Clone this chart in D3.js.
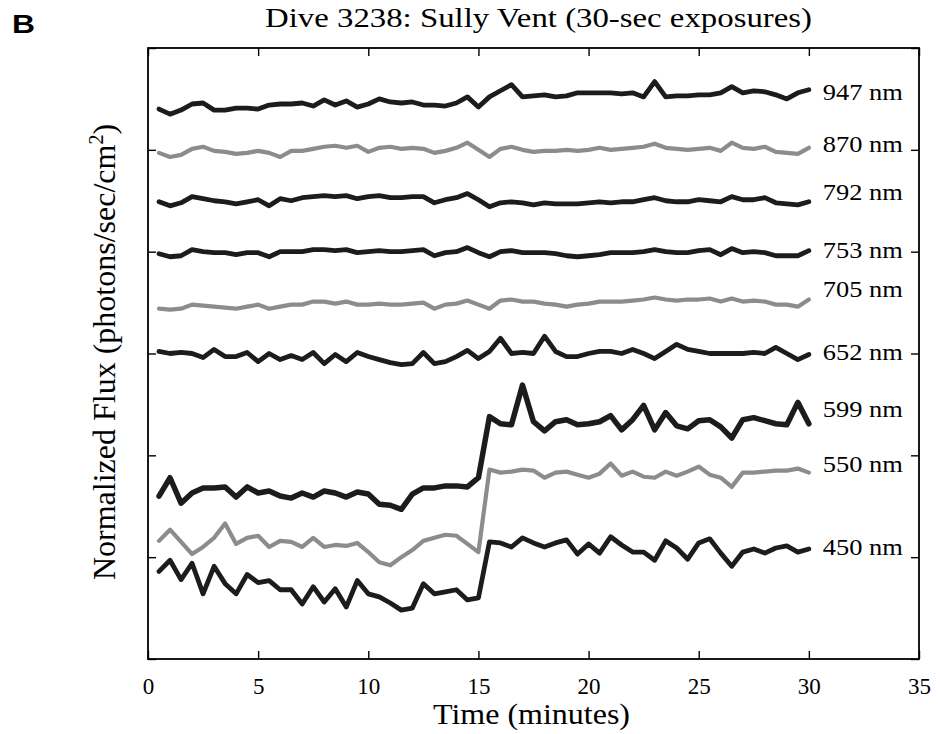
<!DOCTYPE html>
<html><head><meta charset="utf-8">
<script src="https://cdn.jsdelivr.net/npm/d3@7"></script>
<style>body{margin:0;background:#fff;} svg{display:block;}</style>
</head><body><svg id="c" width="940" height="734"></svg>
<script>
// Sample times (minutes), one 30-sec exposure each
const times = [0.5,1,1.5,2,2.5,3,3.5,4,4.5,5,5.5,6,6.5,7,7.5,8,8.5,9,9.5,10,
  10.5,11,11.5,12,12.5,13,13.5,14,14.5,15,15.5,16,16.5,17,17.5,18,18.5,19,19.5,20,
  20.5,21,21.5,22,22.5,23,23.5,24,24.5,25,25.5,26,26.5,27,27.5,28,28.5,29,29.5,30];

const labels = ["947 nm","870 nm","792 nm","753 nm","705 nm","652 nm","599 nm","550 nm","450 nm"];
const labelAnchor = [5.49,4.98,4.51,3.94,3.55,2.94,2.38,1.84,1.02];
const isGray = [false,true,false,false,true,false,false,true,false];

const s947 = [5.40,5.35,5.39,5.45,5.46,5.39,5.39,5.41,5.41,5.40,5.44,5.45,5.45,5.46,5.43,5.49,5.44,5.48,5.42,5.45,
  5.50,5.47,5.46,5.47,5.44,5.44,5.43,5.46,5.52,5.42,5.52,5.58,5.64,5.52,5.53,5.54,5.52,5.53,5.56,5.56,
  5.56,5.56,5.55,5.56,5.52,5.67,5.52,5.53,5.53,5.54,5.54,5.56,5.62,5.56,5.58,5.57,5.54,5.50,5.56,5.59];
const s870 = [4.97,4.93,4.95,5.01,5.03,4.99,4.98,4.96,4.97,4.99,4.97,4.93,4.99,4.99,5.01,5.03,5.04,5.02,5.04,4.98,
  5.02,5.03,5.01,5.02,5.01,4.97,4.99,5.02,5.07,5.00,4.93,5.01,5.03,5.00,4.98,4.99,4.99,5.00,4.99,5.00,
  5.02,5.00,5.01,5.02,5.03,5.06,5.02,5.01,5.00,5.01,5.02,4.99,5.07,5.02,5.01,5.03,4.98,4.97,4.96,5.02];
const s792 = [4.49,4.45,4.48,4.54,4.52,4.50,4.49,4.47,4.49,4.51,4.45,4.52,4.50,4.53,4.54,4.55,4.54,4.55,4.52,4.54,
  4.55,4.53,4.53,4.54,4.54,4.48,4.51,4.53,4.57,4.51,4.44,4.48,4.49,4.48,4.46,4.48,4.47,4.47,4.47,4.48,
  4.49,4.48,4.49,4.49,4.51,4.53,4.50,4.49,4.49,4.51,4.50,4.49,4.54,4.51,4.51,4.53,4.48,4.47,4.46,4.49];
const s753 = [3.98,3.95,3.96,4.02,4.00,3.99,3.99,3.97,3.99,3.99,3.95,4.00,4.00,4.00,4.02,4.02,4.01,4.02,3.99,4.00,
  4.01,4.00,4.00,4.01,4.02,3.96,3.99,4.00,4.04,3.99,3.95,4.00,4.01,3.99,3.99,3.99,3.98,3.96,3.95,3.96,
  3.97,3.99,3.99,3.99,4.00,4.02,4.00,3.99,3.99,4.01,4.02,3.97,4.03,3.99,4.00,3.99,3.96,3.96,3.96,4.01];
const s705 = [3.44,3.43,3.44,3.48,3.47,3.46,3.45,3.44,3.46,3.48,3.44,3.46,3.48,3.48,3.51,3.51,3.49,3.51,3.48,3.48,
  3.49,3.48,3.48,3.49,3.50,3.44,3.48,3.49,3.52,3.48,3.44,3.52,3.53,3.51,3.51,3.49,3.48,3.46,3.48,3.49,
  3.51,3.51,3.51,3.52,3.53,3.55,3.53,3.52,3.53,3.53,3.54,3.51,3.54,3.51,3.52,3.51,3.48,3.48,3.46,3.53];
const s652 = [3.02,3.00,3.01,3.00,2.96,3.04,2.97,2.97,3.01,2.92,3.00,2.94,2.98,2.94,3.01,2.90,2.99,2.92,3.01,2.97,
  2.94,2.91,2.89,2.90,3.01,2.90,2.92,2.97,3.03,2.95,3.02,3.15,3.00,3.01,3.00,3.17,3.02,2.97,2.97,3.00,
  3.02,3.02,3.00,3.04,3.00,2.95,3.02,3.09,3.04,3.02,3.00,3.00,3.00,3.00,3.01,3.00,3.06,3.00,2.94,2.99];
const s599 = [1.60,1.78,1.53,1.63,1.68,1.68,1.69,1.59,1.69,1.63,1.65,1.60,1.58,1.63,1.59,1.65,1.63,1.59,1.64,1.62,
  1.52,1.51,1.47,1.62,1.68,1.68,1.70,1.70,1.69,1.78,2.38,2.31,2.30,2.69,2.33,2.24,2.33,2.35,2.30,2.31,
  2.33,2.39,2.25,2.35,2.49,2.25,2.42,2.29,2.26,2.34,2.35,2.28,2.17,2.35,2.37,2.34,2.31,2.30,2.52,2.31];
const s550 = [1.16,1.27,1.15,1.03,1.10,1.19,1.33,1.13,1.19,1.21,1.10,1.16,1.15,1.10,1.19,1.10,1.12,1.11,1.14,1.05,
  0.95,0.92,1.00,1.07,1.16,1.19,1.22,1.21,1.13,1.05,1.86,1.83,1.84,1.86,1.85,1.78,1.83,1.84,1.81,1.78,
  1.82,1.92,1.80,1.84,1.79,1.78,1.84,1.80,1.84,1.89,1.81,1.78,1.69,1.83,1.83,1.84,1.85,1.85,1.87,1.83];
const s450 = [0.86,0.97,0.78,0.94,0.64,0.91,0.74,0.64,0.83,0.75,0.77,0.68,0.68,0.54,0.71,0.56,0.69,0.51,0.77,0.64,
  0.61,0.55,0.48,0.50,0.74,0.64,0.66,0.68,0.58,0.60,1.15,1.14,1.10,1.19,1.14,1.10,1.14,1.17,1.03,1.13,
  1.04,1.20,1.12,1.05,1.05,0.97,1.16,1.09,0.98,1.14,1.18,1.04,0.91,1.05,1.08,1.04,1.09,1.11,1.05,1.08];

const series = [s947,s870,s792,s753,s705,s652,s599,s550,s450];
const xTicks = [0,5,10,15,20,25,30,35];
const yTicks = [0,1,2,3,4,5,6];

const svg = d3.select("#c");
const L = 148, R = 919, T = 48, B = 659;
const x = d3.scaleLinear().domain([0,35]).range([L,R]);
const y = d3.scaleLinear().domain([0,6]).range([B,T]);
const serif = "Liberation Serif";

// axes (inward ticks, MATLAB style)
const gB = svg.append("g").attr("transform",`translate(0,${B})`)
  .call(d3.axisBottom(x).tickValues(xTicks).tickSize(-8).tickPadding(19).tickFormat(d3.format("d")));
const gT = svg.append("g").attr("transform",`translate(0,${T})`)
  .call(d3.axisTop(x).tickValues(xTicks).tickSize(-8).tickFormat(""));
const gL = svg.append("g").attr("transform",`translate(${L},0)`)
  .call(d3.axisLeft(y).tickValues(yTicks).tickSize(-8).tickFormat(""));
const gR = svg.append("g").attr("transform",`translate(${R},0)`)
  .call(d3.axisRight(y).tickValues(yTicks).tickSize(-8).tickFormat(""));
[gB,gT,gL,gR].forEach(g=>{
  g.select(".domain").remove();
  g.selectAll(".tick line").attr("stroke","#000").attr("stroke-width",1.4);
});
gB.attr("font-family",serif).attr("font-size",23);
gB.selectAll(".tick text").attr("fill","#000");

svg.append("rect").attr("x",L).attr("y",T).attr("width",R-L).attr("height",B-T)
  .attr("fill","none").attr("stroke","#000").attr("stroke-width",1.8);

// traces
const line = d3.line().x((d,i)=>x(times[i])).y(d=>y(d)).curve(d3.curveLinear);
series.forEach((s,k)=>{
  svg.append("path").datum(s).attr("d",line)
    .attr("fill","none")
    .attr("stroke", isGray[k] ? "#8c8c8c" : "#1c1c1c")
    .attr("stroke-width", isGray[k] ? 4.2 : (k===6 ? 5.5 : 4.8))
    .attr("stroke-linejoin","round").attr("stroke-linecap","round");
});

// wavelength labels
labels.forEach((t,k)=>{
  svg.append("text").attr("x",x(30)+14).attr("y",y(labelAnchor[k]))
    .attr("font-family",serif).attr("font-size",24).attr("fill","#000")
    .attr("textLength",80).attr("lengthAdjust","spacingAndGlyphs").text(t);
});

// title
svg.append("text").attr("x",538.5).attr("y",27).attr("text-anchor","middle")
  .attr("font-family",serif).attr("font-size",28).attr("fill","#000")
  .attr("textLength",547).attr("lengthAdjust","spacingAndGlyphs")
  .text("Dive 3238:  Sully Vent (30-sec exposures)");

// panel letter
svg.append("text").attr("x",12).attr("y",33)
  .attr("font-family","Liberation Sans").attr("font-weight","bold")
  .attr("font-size",26).attr("fill","#000").attr("textLength",23).attr("lengthAdjust","spacingAndGlyphs").text("B");

// x label
svg.append("text").attr("x",531.5).attr("y",724).attr("text-anchor","middle")
  .attr("font-family",serif).attr("font-size",30).attr("fill","#000")
  .attr("textLength",197).attr("lengthAdjust","spacingAndGlyphs").text("Time (minutes)");

// y label
const yl = svg.append("text").attr("transform","translate(115,352) rotate(-90)")
  .attr("text-anchor","middle").attr("font-family",serif).attr("font-size",32).attr("fill","#000");
yl.append("tspan").text("Normalized Flux (photons/sec/cm");
yl.append("tspan").attr("dy",-12).attr("font-size",20).text("2");
yl.append("tspan").attr("dy",12).text(")");
</script>
</body></html>
